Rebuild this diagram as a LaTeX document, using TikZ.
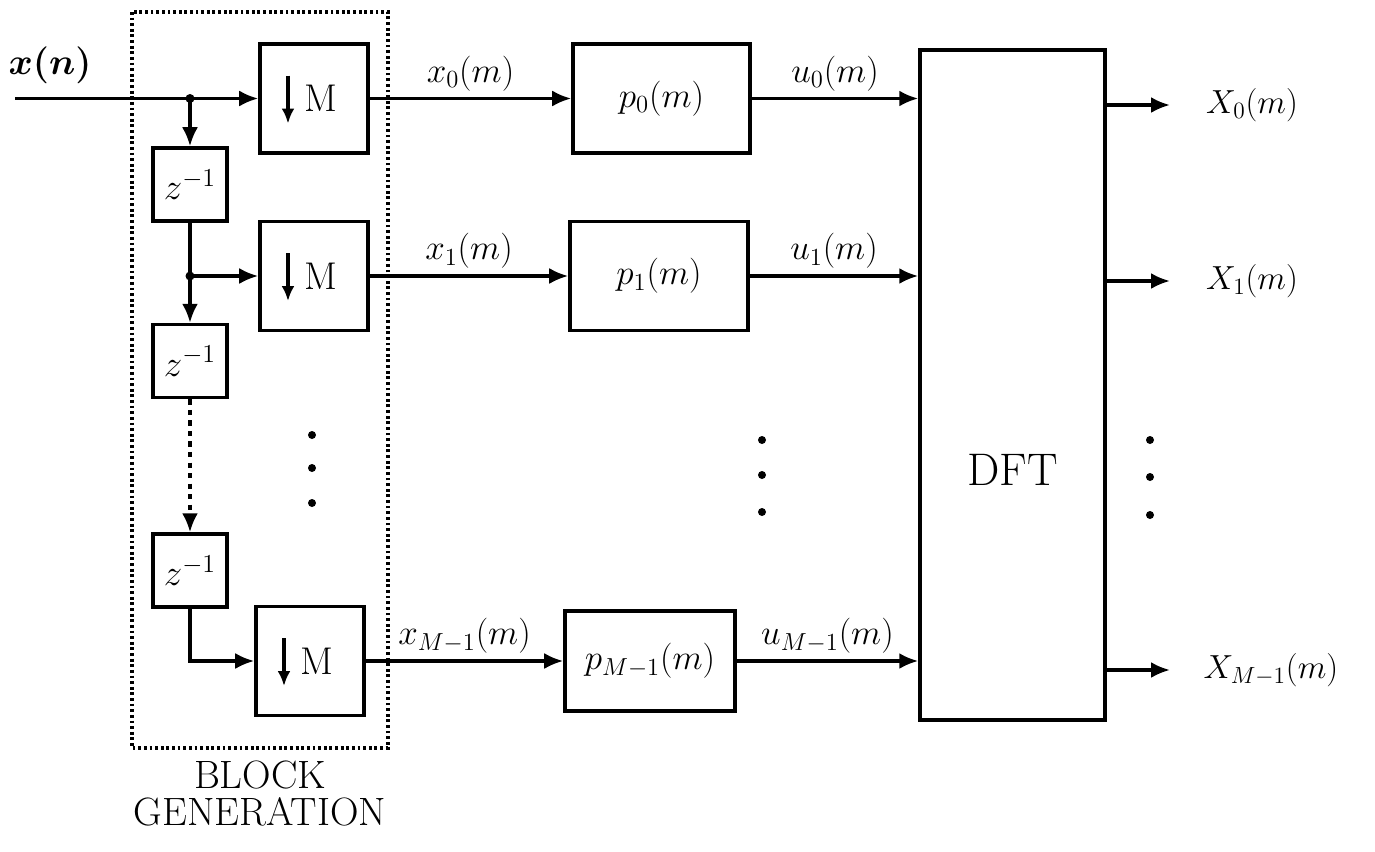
\RequirePackage{fix-cm}
\documentclass[tikz,border=0pt]{standalone}
\usepackage{amsmath}
\usetikzlibrary{arrows.meta}

\tikzset{
  dmbox/.style={draw, line width=2pt, minimum width=2.16cm, minimum height=2.18cm, font=\fontsize{22}{26}\selectfont},
  delaybox/.style={draw, line width=2pt, minimum width=1.48cm, minimum height=1.46cm, inner sep=0pt, font=\fontsize{21}{25}\selectfont},
  filtbox/.style={draw, line width=2pt, minimum height=2.18cm, font=\fontsize{20}{24}\selectfont},
  lbl/.style={font=\fontsize{20}{24}\selectfont},
  wire/.style={line width=1.8pt, -{Latex[length=3.8mm,width=3.2mm]}},
}

\begin{document}
\begin{tikzpicture}
    \useasboundingbox (0,0) rectangle (27.5,-17.02);

    % block generation
    \draw[line width=1.8pt, dash pattern=on 1.6pt off 1.6pt] (2.64,-0.24) rectangle (7.76,-14.96);
    \node[align=center, font=\fontsize{22.5}{21}\selectfont] (bgen) at (5.2,-15.87) {BLOCK\\GENERATION};

    \node[dmbox] (dm0) at (6.28,-1.97) {\hspace*{0.28cm}M};
    \node[dmbox] (dm1) at (6.28,-5.52) {\hspace*{0.28cm}M};
    \node[dmbox] (dm2) at (6.2,-13.22) {\hspace*{0.28cm}M};
    \foreach \n in {dm0,dm1,dm2}
        \draw[line width=1.8pt, -{Latex[length=3mm,width=2.6mm]}] ([xshift=-0.52cm,yshift=0.46cm]\n.center) -- ++(0,-0.96);

    \node[delaybox] (z0) at (3.8,-3.69) {$z^{-1}$};
    \node[delaybox] (z1) at (3.8,-7.22) {$z^{-1}$};
    \node[delaybox] (z2) at (3.8,-11.41) {$z^{-1}$};

    \coordinate (in) at (0.3,-1.97);
    \coordinate (j0) at (3.8,-1.97);
    \coordinate (j1) at (3.8,-5.52);
    \node[lbl, font=\fontsize{21}{25}\selectfont] (xn) at (1.0,-1.3) {$\boldsymbol{x(n)}$};

    \draw[line width=1.8pt] (in) -- (j0);
    \draw[wire] (j0) -- (dm0);
    \draw[wire] (j0) -- (z0);
    \draw[line width=1.8pt] (z0) -- (j1);
    \draw[wire] (j1) -- (dm1);
    \draw[wire] (j1) -- (z1);
    \draw[wire, dashed] (z1) -- (z2);
    \draw[wire] (z2.south) |- (dm2.west);
    \fill (j0) circle (0.09);
    \fill (j1) circle (0.09);

    % polyphase filters
    \node[filtbox, minimum width=3.54cm] (p0) at (13.23,-1.97) {$p_0(m)$};
    \node[filtbox, minimum width=3.56cm] (p1) at (13.18,-5.52) {$p_1(m)$};
    \node[filtbox, minimum width=3.4cm, minimum height=2.0cm] (p2) at (13.0,-13.22) {$p_{M-1}(m)$};

    \draw[wire] (dm0) -- node[above, lbl] {$x_0(m)$} (p0);
    \draw[wire] (dm1) -- node[above, lbl] {$x_1(m)$} (p1);
    \draw[wire] (dm2) -- node[above, lbl] {$x_{M-1}(m)$} (p2);

    % DFT
    \node[draw, line width=2pt, minimum width=3.7cm, minimum height=13.4cm] (dft) at (20.25,-7.7) {};
    \node[font=\fontsize{26}{30}\selectfont] (dftlbl) at (20.25,-9.4) {DFT};

    \draw[wire] (p0.east) -- node[above, lbl] {$u_0(m)$} (dft.west |- p0.east);
    \draw[wire] (p1.east) -- node[above, lbl] {$u_1(m)$} (dft.west |- p1.east);
    \draw[wire] (p2.east) -- node[above, lbl] {$u_{M-1}(m)$} (dft.west |- p2.east);

    \node[anchor=west, font=\fontsize{19}{23}\selectfont] (X0) at (24.0,-2.1) {$X_0(m)$};
    \node[anchor=west, font=\fontsize{19}{23}\selectfont] (X1) at (24.0,-5.62) {$X_1(m)$};
    \node[anchor=west, font=\fontsize{19}{23}\selectfont] (X2) at (23.95,-13.4) {$X_{M-1}(m)$};

    \draw[wire] (dft.east |- X0.west) -- ([xshift=-0.6cm]X0.west);
    \draw[wire] (dft.east |- X1.west) -- ([xshift=-0.6cm]X1.west);
    \draw[wire] (dft.east |- X2.west) -- ([xshift=-0.55cm]X2.west);

    % dots
    \foreach \y in {-8.7,-9.36,-10.06}
        \fill (6.24,\y) circle (0.08);
    \foreach \y in {-8.8,-9.5,-10.24}
        \fill (15.24,\y) circle (0.08);
    \foreach \y in {-8.8,-9.54,-10.3}
        \fill (23.0,\y) circle (0.08);
\end{tikzpicture}
\end{document}
